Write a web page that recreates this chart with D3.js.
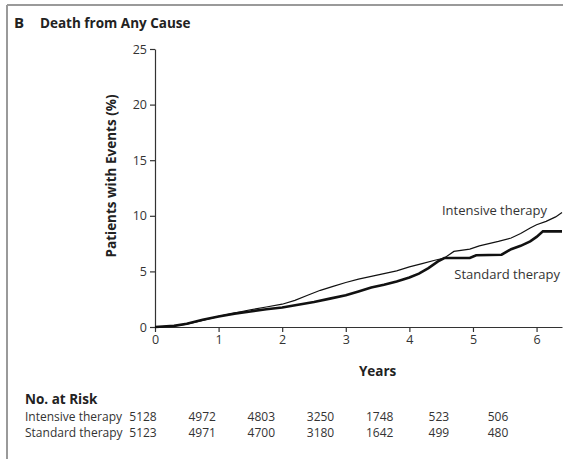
<!DOCTYPE html>
<html>
<head>
<meta charset="utf-8">
<script src="https://cdn.jsdelivr.net/npm/d3@7"></script>
<style>
  body { margin: 0; background: #fff; }
  svg { display: block; font-family: "Open Sans", sans-serif; }
</style>
</head>
<body>
<svg id="chart"></svg>
<script>
// Kaplan-Meier style cumulative incidence
const intensiveYears = [0, 0.3, 0.5, 0.75, 1.0, 1.25, 1.5, 1.75, 2.0, 2.2, 2.4, 2.6, 2.8, 3.0, 3.2, 3.4, 3.6, 3.8, 4.0, 4.2, 4.4, 4.55, 4.7, 4.95, 5.1, 5.4, 5.6, 5.75, 5.9, 6.0, 6.15, 6.3, 6.4];
const intensiveValues = [0, 0.1, 0.25, 0.6, 0.95, 1.25, 1.55, 1.8, 2.05, 2.4, 2.85, 3.3, 3.65, 4.0, 4.3, 4.55, 4.8, 5.05, 5.4, 5.7, 6.0, 6.2, 6.8, 7.0, 7.3, 7.7, 8.0, 8.4, 8.9, 9.2, 9.5, 9.9, 10.3];

const standardYears = [0, 0.3, 0.5, 0.75, 1.0, 1.25, 1.5, 1.75, 2.0, 2.25, 2.5, 2.75, 3.0, 3.2, 3.4, 3.6, 3.8, 4.0, 4.15, 4.3, 4.45, 4.55, 4.95, 5.05, 5.45, 5.6, 5.75, 5.9, 6.0, 6.1, 6.4];
const standardValues = [0, 0.1, 0.3, 0.65, 0.95, 1.2, 1.4, 1.6, 1.75, 2.0, 2.25, 2.55, 2.85, 3.2, 3.55, 3.8, 4.1, 4.45, 4.8, 5.3, 5.9, 6.2, 6.2, 6.45, 6.5, 7.0, 7.3, 7.7, 8.1, 8.6, 8.6];

const yTicks = [0, 5, 10, 15, 20, 25];
const xTicks = [0, 1, 2, 3, 4, 5, 6];

const riskGroups = ["Intensive therapy", "Standard therapy"];
const intensiveAtRisk = [5128, 4972, 4803, 3250, 1748, 523, 506];
const standardAtRisk = [5123, 4971, 4700, 3180, 1642, 499, 480];

const width = 563, height = 459;
const plot = { left: 155, right: 562, top: 49, bottom: 327 };

const svg = d3.select("#chart").attr("width", width).attr("height", height);

// frame (gray rule on top and left)
svg.append("line").attr("x1", 7).attr("x2", width).attr("y1", 5).attr("y2", 5)
  .attr("stroke", "#9a9a9a").attr("stroke-width", 2);
svg.append("line").attr("x1", 7).attr("x2", 7).attr("y1", 5).attr("y2", height)
  .attr("stroke", "#9a9a9a").attr("stroke-width", 2);

// title
svg.append("text").attr("x", 14).attr("y", 28)
  .attr("font-size", 15).attr("font-weight", "bold").attr("fill", "#222").text("B");
svg.append("text").attr("x", 40).attr("y", 28)
  .attr("font-size", 13.5).attr("font-weight", "bold").attr("fill", "#222").text("Death from Any Cause");

const x = d3.scaleLinear().domain([0, 6.4]).range([plot.left, plot.right]);
const y = d3.scaleLinear().domain([0, 25]).range([plot.bottom, plot.top]);

// axes
const yAxis = svg.append("g")
  .attr("transform", `translate(${plot.left},0)`)
  .call(d3.axisLeft(y).tickValues(yTicks).tickFormat(d3.format("d"))
    .tickSize(5).tickPadding(3).tickSizeOuter(0));
const xAxis = svg.append("g")
  .attr("transform", `translate(0,${plot.bottom})`)
  .call(d3.axisBottom(x).tickValues(xTicks).tickFormat(d3.format("d"))
    .tickSize(5).tickPadding(3).tickSizeOuter(0));

[yAxis, xAxis].forEach((g) => {
  g.select(".domain").attr("stroke", "#333").attr("stroke-width", 1.2);
  g.selectAll(".tick line").attr("stroke", "#333").attr("stroke-width", 1.2);
  g.selectAll(".tick text").attr("font-size", 12.5).attr("fill", "#333")
    .attr("font-family", "Open Sans, sans-serif");
});

// axis titles
svg.append("text")
  .attr("transform", "translate(116,176) rotate(-90)")
  .attr("text-anchor", "middle").attr("font-size", 13.5).attr("font-weight", "bold")
  .attr("fill", "#222").text("Patients with Events (%)");
svg.append("text").attr("x", x(3.5)).attr("y", 376)
  .attr("text-anchor", "middle").attr("font-size", 13.5).attr("font-weight", "bold")
  .attr("fill", "#222").text("Years");

// curves
const line = d3.line().x((d) => x(d[0])).y((d) => y(d[1])).curve(d3.curveLinear);
const intensive = intensiveYears.map((t, i) => [t, intensiveValues[i]]);
const standard = standardYears.map((t, i) => [t, standardValues[i]]);

svg.append("path").datum(standard).attr("d", line)
  .attr("fill", "none").attr("stroke", "#111").attr("stroke-width", 2.6);
svg.append("path").datum(intensive).attr("d", line)
  .attr("fill", "none").attr("stroke", "#111").attr("stroke-width", 1.2);

// curve labels
svg.append("text").attr("x", 547).attr("y", 215).attr("text-anchor", "end")
  .attr("font-size", 13).attr("fill", "#333").text("Intensive therapy");
svg.append("text").attr("x", 560).attr("y", 279).attr("text-anchor", "end")
  .attr("font-size", 13).attr("fill", "#333").text("Standard therapy");

// number at risk table
svg.append("text").attr("x", 25).attr("y", 404)
  .attr("font-size", 13.5).attr("font-weight", "bold").attr("fill", "#222").text("No. at Risk");

const col = d3.scalePoint().domain(xTicks).range([143, 498]);
const row = d3.scalePoint().domain(riskGroups).range([421, 437]);

[intensiveAtRisk, standardAtRisk].forEach((counts, gi) => {
  const g = svg.append("g");
  g.append("text").attr("x", 25).attr("y", row(riskGroups[gi]))
    .attr("font-size", 12).attr("fill", "#333").text(riskGroups[gi]);
  g.selectAll("text.n").data(counts).enter().append("text")
    .attr("class", "n")
    .attr("x", (d, i) => col(xTicks[i]))
    .attr("y", row(riskGroups[gi]))
    .attr("text-anchor", "middle").attr("font-size", 12).attr("fill", "#333")
    .text((d) => d);
});
</script>
</body>
</html>
